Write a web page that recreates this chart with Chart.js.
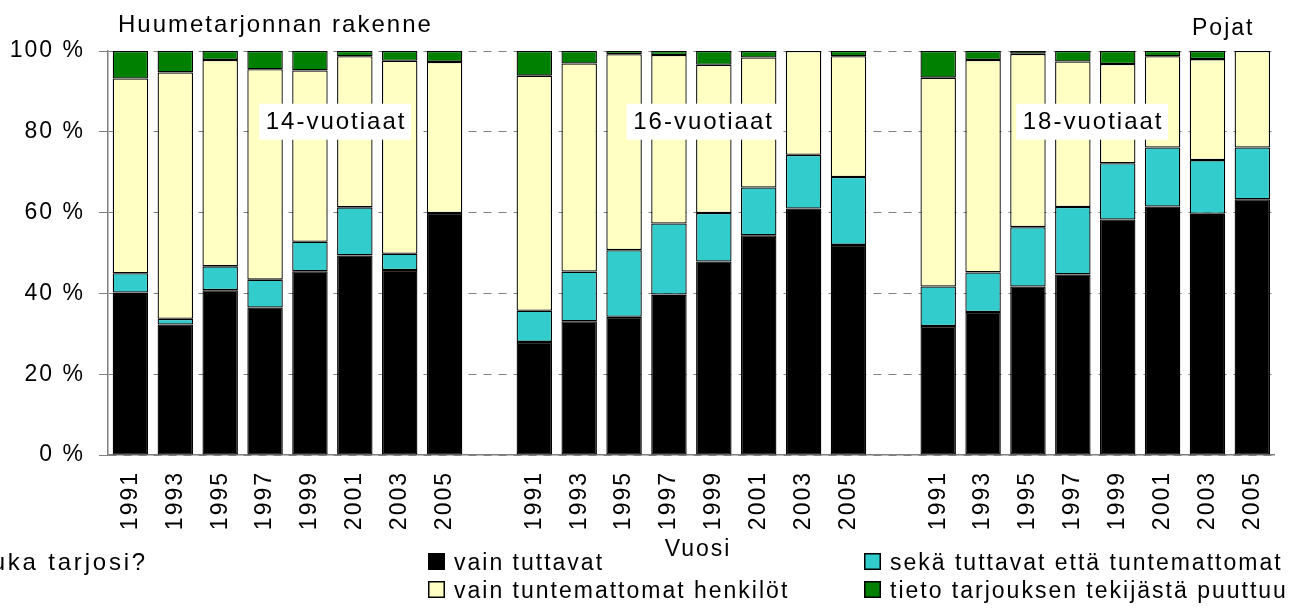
<!DOCTYPE html>
<html>
<head>
<meta charset="utf-8">
<script src="https://cdn.jsdelivr.net/npm/chart.js@4"></script>
<style>
  html, body { margin: 0; padding: 0; background: #fff; overflow: hidden; }
  #wrap { width: 1296px; height: 611px; }
</style>
</head>
<body>
<div id="wrap"><canvas id="supplyChart"></canvas></div>
<script>
const years = ['1991', '1993', '1995', '1997', '1999', '2001', '2003', '2005'];
const ageGroups = ['14-vuotiaat', '16-vuotiaat', '18-vuotiaat'];

// shares (%) per age group, in year order
const onlyFriends = [
  [40.2, 32.3, 40.8, 36.5, 45.5, 49.4, 45.8, 59.9],
  [28.0, 33.1, 34.2, 39.7, 47.9, 54.4, 61.0, 52.0],
  [31.9, 35.4, 41.7, 44.7, 58.3, 61.5, 59.7, 63.3]
];
const friendsAndStrangers = [
  [4.8, 1.4, 5.9, 6.9, 7.3, 11.9, 4.0, 0],
  [7.7, 12.3, 16.5, 17.6, 12.0, 11.8, 13.3, 16.8],
  [9.8, 9.8, 14.7, 16.7, 13.9, 14.6, 13.3, 12.8]
];
const onlyStrangers = [
  [48.2, 61.0, 51.1, 52.1, 42.4, 37.4, 47.8, 37.4],
  [58.2, 51.5, 48.5, 41.7, 36.7, 32.2, 25.7, 29.9],
  [51.7, 52.6, 42.9, 36.0, 24.6, 22.6, 25.0, 23.9]
];
const unknownOfferer = [
  [6.8, 5.3, 2.2, 4.5, 4.8, 1.3, 2.4, 2.7],
  [6.1, 3.1, 0.8, 1.0, 3.4, 1.6, 0, 1.3],
  [6.6, 2.2, 0.7, 2.6, 3.2, 1.3, 2.0, 0]
];
const yTicks = [0, 20, 40, 60, 80, 100];

const seriesNames = ['vain tuttavat', 'sekä tuttavat että tuntemattomat', 'vain tuntemattomat henkilöt', 'tieto tarjouksen tekijästä puuttuu'];
const seriesColors = ['#000000', '#33CCCC', '#FFFFC4', '#008000'];

// one empty category between the age groups
const categories = [...years, '', ...years, '', ...years];
function spread(groups) {
  return [...groups[0], null, ...groups[1], null, ...groups[2]];
}

const fontFamily = '"Liberation Sans", Arial, Helvetica, sans-serif';
const fontSize = 23;
const spacing = '2px';

const spacingPlugin = {
  id: 'spacing',
  beforeUpdate(chart) { chart.ctx.letterSpacing = spacing; },
  beforeDraw(chart) { chart.ctx.letterSpacing = spacing; }
};

// where the group captions sit (category index, % level)
const captionSpots = [4.56, 12.75, 21.43];
const captionLevel = 82.5;

const textPlugin = {
  id: 'texts',
  afterDraw(chart) {
    const ctx = chart.ctx;
    const xs = chart.scales.x, ys = chart.scales.y;
    ctx.save();
    ctx.letterSpacing = spacing;
    ctx.fillStyle = '#000';
    ctx.textBaseline = 'alphabetic';
    ctx.textAlign = 'left';
    ctx.font = '24px ' + fontFamily;
    ctx.fillText('Huumetarjonnan rakenne', 118, 32);
    ctx.letterSpacing = '2.8px';
    ctx.textAlign = 'right';
    ctx.fillText('Kuka tarjosi?', 148, 570);
    ctx.letterSpacing = spacing;
    ctx.textAlign = 'left';
    ctx.font = fontSize + 'px ' + fontFamily;
    ctx.fillText('Pojat', 1192, 35);

    ctx.font = '24px ' + fontFamily;
    ctx.textAlign = 'center';
    ctx.textBaseline = 'middle';
    ageGroups.forEach((name, i) => {
      const cx = xs.getPixelForValue(captionSpots[i]);
      const cy = ys.getPixelForValue(captionLevel);
      const w = ctx.measureText(name).width + 11;
      ctx.fillStyle = '#fff';
      ctx.fillRect(cx - w / 2, cy - 18, w, 36);
      ctx.fillStyle = '#000';
      ctx.fillText(name, cx + 1, cy + 1);
    });

    ctx.font = fontSize + 'px ' + fontFamily;
    ctx.textBaseline = 'alphabetic';
    ctx.fillText('Vuosi', 698, 556);

    // legend, two columns
    const cols = [428, 864], rows = [553, 581];
    const order = [[0, 0, 0], [1, 1, 0], [2, 0, 1], [3, 1, 1]];
    ctx.textAlign = 'left';
    order.forEach(([s, c, r]) => {
      const bx = cols[c], by = rows[r];
      ctx.fillStyle = seriesColors[s];
      ctx.fillRect(bx, by, 17, 17);
      ctx.strokeStyle = '#000';
      ctx.lineWidth = 1.5;
      ctx.strokeRect(bx + 0.75, by + 0.75, 15.5, 15.5);
      ctx.fillStyle = '#000';
      ctx.fillText(seriesNames[s], bx + 26, by + 17);
    });
    ctx.restore();
  }
};

const datasets = [onlyFriends, friendsAndStrangers, onlyStrangers, unknownOfferer].map((g, i) => ({
  label: seriesNames[i],
  data: spread(g),
  backgroundColor: seriesColors[i],
  borderColor: '#000',
  borderWidth: 1.3,
  borderSkipped: false,
  barPercentage: 0.79,
  categoryPercentage: 1
}));

new Chart(document.getElementById('supplyChart'), {
  type: 'bar',
  data: { labels: categories, datasets: datasets },
  options: {
    responsive: true,
    maintainAspectRatio: false,
    animation: false,
    layout: { padding: { top: 51, right: 3.5, left: 0, bottom: 0 } },
    plugins: { legend: { display: false }, tooltip: { enabled: false } },
    scales: {
      x: {
        stacked: true,
        grid: { display: false, drawTicks: false },
        border: { color: '#808080', width: 1.5 },
        ticks: {
          autoSkip: false, maxRotation: 90, minRotation: 90,
          color: '#000', padding: 16,
          font: { size: fontSize, family: fontFamily }
        },
        afterFit(scale) { scale.height = 156; }
      },
      y: {
        stacked: true,
        min: 0, max: 100,
        afterBuildTicks(scale) { scale.ticks = yTicks.map(v => ({ value: v })); },
        ticks: {
          color: '#000', padding: 14,
          font: { size: fontSize, family: fontFamily },
          callback: v => v + ' %'
        },
        grid: { color: '#808080', lineWidth: 1, tickLength: 9, tickColor: '#808080' },
        border: { color: '#808080', width: 1.5, dash: [8, 7] },
        afterFit(scale) { scale.width = 108; }
      }
    }
  },
  plugins: [spacingPlugin, textPlugin]
});
</script>
</body>
</html>
